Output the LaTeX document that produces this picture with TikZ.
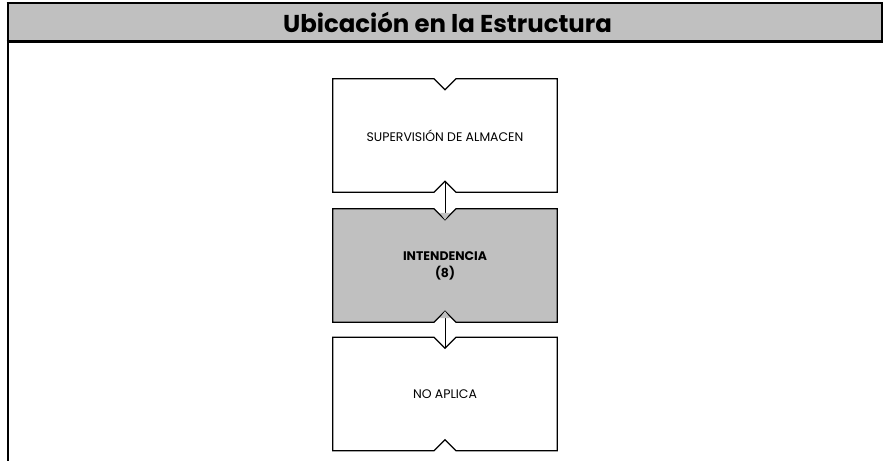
\documentclass[tikz,border=0pt]{standalone}
\usepackage{fontspec}
\setmainfont{Poppins}
\usetikzlibrary{backgrounds,arrows.meta}

\definecolor{grisfondo}{HTML}{C0C0C0}

\tikzset{
	puesto/.style={minimum width=224bp, minimum height=113bp, inner sep=0pt,
		align=center, font=\fontsize{12.5}{17}\selectfont},
	notchline/.style={draw=black, line width=1.2bp},
	enlace/.style={draw=black, line width=0.8bp,
		-{Triangle[width=10bp,length=7bp,fill=grisfondo,color=grisfondo]}},
}

\begin{document}
\begin{tikzpicture}[x=1bp, y=-1bp]
	\useasboundingbox (0,0) rectangle (883,461);

	% encabezado
	\fill[grisfondo] (7.5,3) rectangle (882,41.5);
	\draw[line width=2.5bp] (6.5,3) -- (883,3);
	\draw[line width=2.5bp] (6.5,41.5) -- (883,41.5);
	\draw[line width=2bp] (7.5,3) -- (7.5,461);
	\draw[line width=2bp] (882,3) -- (882,41.5);
	\node[font=\fontsize{24.5}{28}\selectfont\bfseries] (titulo) at (447.5,22) {Ubicación en la Estructura};

	% puestos
	\node[puesto] (sup) at (445,135.5) {SUPERVISIÓN DE ALMACEN};
	\node[puesto, font=\fontsize{12.5}{17}\selectfont\bfseries] (int) at (445,265.5) {INTENDENCIA\\(8)};
	\node[puesto] (noap) at (445,394) {NO APLICA};

	\begin{scope}[on background layer]
		\foreach \n/\c in {sup/white, int/grisfondo, noap/white}{
			\path[notchline, fill=\c] (\n.north west) -- ([xshift=-11bp]\n.north) -- ([yshift=-11bp]\n.north)
				-- ([xshift=11bp]\n.north) -- (\n.north east) -- (\n.south east)
				-- ([xshift=11bp]\n.south) -- ([yshift=11bp]\n.south) -- ([xshift=-11bp]\n.south)
				-- (\n.south west) -- cycle;
		}
	\end{scope}

	% enlaces
	\draw[enlace] ([yshift=11bp]sup.south) -- ([yshift=-11bp]int.north);
	\draw[enlace] ([yshift=-11bp]noap.north) -- ([yshift=11bp]int.south);
\end{tikzpicture}
\end{document}
